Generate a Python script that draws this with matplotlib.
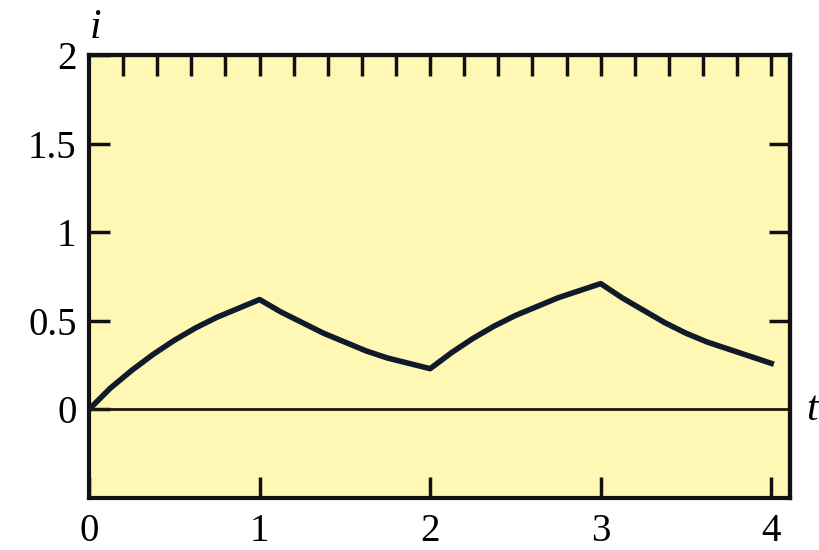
import matplotlib
matplotlib.use("Agg")
import matplotlib.pyplot as plt

t_vals = [0, 0.125, 0.25, 0.375, 0.5, 0.625, 0.75, 0.875, 1.0,
          1.125, 1.25, 1.375, 1.5, 1.625, 1.75, 1.875, 2.0,
          2.125, 2.25, 2.375, 2.5, 2.625, 2.75, 2.875, 3.0,
          3.125, 3.25, 3.375, 3.5, 3.625, 3.75, 3.875, 4.0]
i_vals = [0, 0.12, 0.22, 0.31, 0.39, 0.46, 0.52, 0.57, 0.62,
          0.55, 0.49, 0.43, 0.38, 0.33, 0.29, 0.26, 0.23,
          0.32, 0.40, 0.47, 0.53, 0.58, 0.63, 0.67, 0.71,
          0.63, 0.56, 0.49, 0.43, 0.38, 0.34, 0.30, 0.26]

x_ticks = [0, 1, 2, 3, 4]
x_ticklabels = ["0", "1", "2", "3", "4"]
y_ticks = [0, 0.5, 1, 1.5, 2]
y_ticklabels = ["0", "0.5", "1", "1.5", "2"]
top_ticks = [round(0.2 * k, 1) for k in range(1, 21)]
right_ticks = [0.5, 1, 1.5]

plt.rcParams['font.family'] = ['Liberation Serif', 'DejaVu Serif']

fig = plt.figure(figsize=(8.19, 5.5), dpi=100)
ax = fig.add_axes([0.1087, 0.0945, 0.8559, 0.8055])
ax.set_facecolor('#fff8b4')

ax.plot(t_vals, i_vals, color='#111a2a', lw=4, solid_joinstyle='round', zorder=3)
ax.axhline(0, color='#1a1a10', lw=2, zorder=2)

ax.set_xlim(0, 4.11)
ax.set_ylim(-0.5, 2)

for s in ax.spines.values():
    s.set_linewidth(3)
    s.set_color('#111111')

ax.set_xticks(x_ticks)
ax.set_xticklabels(x_ticklabels)
ax.set_yticks(y_ticks)
ax.set_yticklabels(y_ticklabels)
ax.tick_params(axis='both', direction='in', length=15, width=2.5, labelsize=28,
               color='#111111', pad=9)
ax.tick_params(axis='x', pad=11)

top = ax.secondary_xaxis('top')
top.set_xticks(top_ticks)
top.tick_params(direction='in', length=15, width=2.5, labeltop=False, color='#111111')
top.spines['top'].set_linewidth(3)

right = ax.secondary_yaxis('right')
right.set_yticks(right_ticks)
right.tick_params(direction='in', length=15, width=2.5, labelright=False, color='#111111')
right.spines['right'].set_linewidth(3)

fig.text(90 / 819, 1 - 28 / 550, 'i', fontsize=30, style='italic', ha='left', va='center')
fig.text(806 / 819, 1 - 410 / 550, 't', fontsize=30, style='italic', ha='left', va='center')

fig.savefig('out.png', dpi=100)
